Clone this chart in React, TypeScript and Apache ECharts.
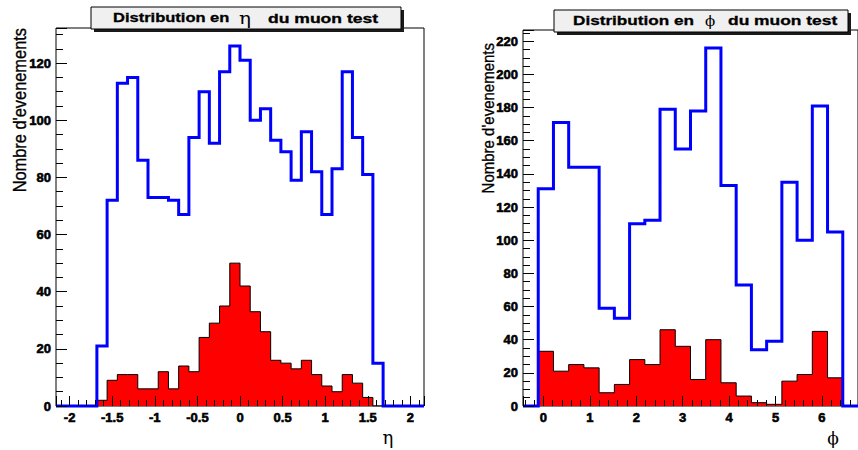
import React, { useEffect, useRef } from "react";
import * as echarts from "echarts";

// ---- eta distribution: 36 bins between etaRange[0] and etaRange[1]
const etaRange = [-2.16, 2.16];
const etaAllMuons = [
  0, 0, 0, 0, 21, 72, 113, 115, 86, 73, 73, 72, 67, 94, 110, 92, 117, 126,
  121, 100, 104, 93, 89, 79, 96, 82, 67, 83, 117, 94, 81, 15, 0, 0, 0, 0,
];
const etaSelected = [
  0, 0, 0, 0, 2, 9, 11, 11, 6, 6, 12, 6, 14, 12, 24, 29, 35, 50,
  42, 33, 26, 16, 15, 13, 16, 11, 7, 5, 11, 8, 3, 0, 0, 0, 0, 0,
];
const etaYMax = 132.3;

// ---- phi distribution: 22 bins between phiRange[0] and phiRange[1]
const phiRange = [-0.44, 6.776];
const phiAllMuons = [
  0, 131, 171, 144, 144, 59, 53, 110, 112, 179, 155, 178, 216, 133, 73, 34, 39,
  135, 100, 181, 105, 0,
];
const phiSelected = [
  0, 33, 21, 25, 23, 8, 13, 28, 25, 46, 36, 16, 40, 14, 6, 2, 1, 15, 19, 45, 17, 0,
];
const phiYMax = 226.8;

const yTitle = "Nombre d'evenements";
const titleStart = "Distribution en";
const titleEnd = "du muon test";

function histSteps(range: number[], counts: number[]) {
  const w = (range[1] - range[0]) / counts.length;
  const pts = counts.map((c, i) => [Number((range[0] + i * w).toFixed(5)), c]);
  pts.push([range[1], counts[counts.length - 1]]);
  return pts;
}

const labelRich = {
  b: {
    color: "#000",
    fontFamily: "Liberation Sans",
    fontWeight: "bold",
    fontSize: 13,
    textBorderColor: "#000",
    textBorderWidth: 0.6,
  },
};

function fmt(v: number) {
  return "{b|" + String(Number(v.toFixed(3))) + "}";
}

function xAxisCfg(gridIndex: number, range: number[], splitNumber: number, minorSplit: number) {
  return {
    type: "value",
    gridIndex,
    min: range[0],
    max: range[1],
    splitNumber,
    z: 5,
    axisLine: { show: false, onZero: false },
    axisTick: { show: true, inside: true, length: 10, lineStyle: { color: "#000", width: 1 } },
    minorTick: { show: true, splitNumber: minorSplit, length: 6, lineStyle: { color: "#000", width: 1 } },
    splitLine: { show: false },
    minorSplitLine: { show: false },
    axisLabel: {
      color: "#000",
      fontWeight: "bold",
      fontSize: 13,
      fontFamily: "Liberation Sans",
      margin: 5,
      showMinLabel: false,
      showMaxLabel: false,
      formatter: fmt,
      rich: labelRich,
    },
  };
}

function yAxisCfg(gridIndex: number, max: number, splitNumber: number) {
  return {
    type: "value",
    gridIndex,
    min: 0,
    max,
    splitNumber,
    z: 5,
    axisLine: { show: false, onZero: false },
    axisTick: { show: true, inside: true, length: 11, lineStyle: { color: "#000", width: 1 } },
    minorTick: { show: true, splitNumber: 4, length: 7, lineStyle: { color: "#000", width: 1 } },
    splitLine: { show: false },
    minorSplitLine: { show: false },
    axisLabel: {
      color: "#000",
      fontWeight: "bold",
      fontSize: 13,
      fontFamily: "Liberation Sans",
      margin: 5,
      showMaxLabel: false,
      formatter: fmt,
      rich: labelRich,
    },
  };
}

function redSeries(xi: number, data: number[][]) {
  return {
    type: "line",
    xAxisIndex: xi,
    yAxisIndex: xi,
    step: "end",
    symbol: "none",
    silent: true,
    z: 2,
    data,
    lineStyle: { color: "#000", width: 1 },
    areaStyle: { color: "#ff0000", opacity: 1 },
  };
}

function blueSeries(xi: number, data: number[][]) {
  return {
    type: "line",
    xAxisIndex: xi,
    yAxisIndex: xi,
    step: "end",
    symbol: "none",
    silent: true,
    clip: false,
    z: 3,
    data,
    lineStyle: { color: "#0000ff", width: 3, join: "miter" },
  };
}

function titleBox(x: number, y: number, w: number, h: number) {
  return [
    { type: "rect", z: 20, shape: { x: x + 3, y: y + 3, width: w, height: h }, style: { fill: "#1a1a1a" } },
    { type: "rect", z: 21, shape: { x, y, width: w, height: h }, style: { fill: "#f0f0f0", stroke: "#000", lineWidth: 1 } },
  ];
}

function titleText(x: number, y: number, text: string, scaleX: number) {
  return {
    type: "text",
    z: 22,
    x,
    y,
    scaleX,
    style: {
      text,
      fill: "#000",
      font: "bold 13px 'Liberation Sans', Arial, sans-serif",
      textAlign: "left",
      textVerticalAlign: "middle",
      stroke: "#000",
      lineWidth: 0.3,
    },
  };
}

function symText(x: number, y: number, text: string, size: number, scaleX = 1) {
  return {
    type: "text",
    z: 22,
    x,
    y,
    scaleX,
    style: {
      text,
      fill: "#000",
      font: `${size}px 'DejaVu Serif', serif`,
      textAlign: "center",
      textVerticalAlign: "middle",
    },
  };
}

function yTitleText(x: number, y: number, size: number) {
  return {
    type: "text",
    z: 22,
    x,
    y,
    rotation: Math.PI / 2,
    scaleY: 1.15,
    style: {
      text: yTitle,
      fill: "#000",
      font: `${size}px 'Liberation Sans', Arial, sans-serif`,
      textAlign: "right",
      textVerticalAlign: "middle",
      stroke: "#000",
      lineWidth: 0.3,
    },
  };
}

export default function App() {
  const ref = useRef<HTMLDivElement>(null);
  useEffect(() => {
    if (!ref.current) return;
    const chart = echarts.init(ref.current, null, { renderer: "svg" });
    const gridStyle = {
      show: true,
      borderColor: "#000",
      borderWidth: 1,
      backgroundColor: "rgba(0,0,0,0)",
      containLabel: false,
    };
    chart.setOption({
      animation: false,
      backgroundColor: "#fff",
      grid: [
        { ...gridStyle, left: 56, top: 28, width: 368, height: 378 },
        { ...gridStyle, left: 523, top: 30, width: 344, height: 376 },
      ],
      xAxis: [xAxisCfg(0, etaRange, 8, 5), xAxisCfg(1, phiRange, 7, 5)],
      yAxis: [yAxisCfg(0, etaYMax, 7), yAxisCfg(1, phiYMax, 11)],
      series: [
        redSeries(0, histSteps(etaRange, etaSelected)),
        blueSeries(0, histSteps(etaRange, etaAllMuons)),
        redSeries(1, histSteps(phiRange, phiSelected)),
        blueSeries(1, histSteps(phiRange, phiAllMuons)),
      ],
      graphic: [
        ...titleBox(91, 7, 310, 22),
        titleText(113, 18, titleStart, 1.27),
        symText(245, 18, "η", 16, 1.25),
        titleText(268, 18, titleEnd, 1.35),
        ...titleBox(554, 10, 294, 22),
        titleText(573, 20.5, titleStart, 1.32),
        symText(710, 20.5, "ϕ", 15),
        titleText(728, 20.5, titleEnd, 1.34),
        yTitleText(20, 28, 16.4),
        yTitleText(488, 43, 15),
        symText(388, 437, "η", 18),
        symText(833, 438, "ϕ", 17),
      ],
    });
    return () => chart.dispose();
  }, []);
  return (
    <div
      ref={ref}
      style={{ position: "fixed", left: 0, top: 0, width: 858, height: 450 }}
    />
  );
}
